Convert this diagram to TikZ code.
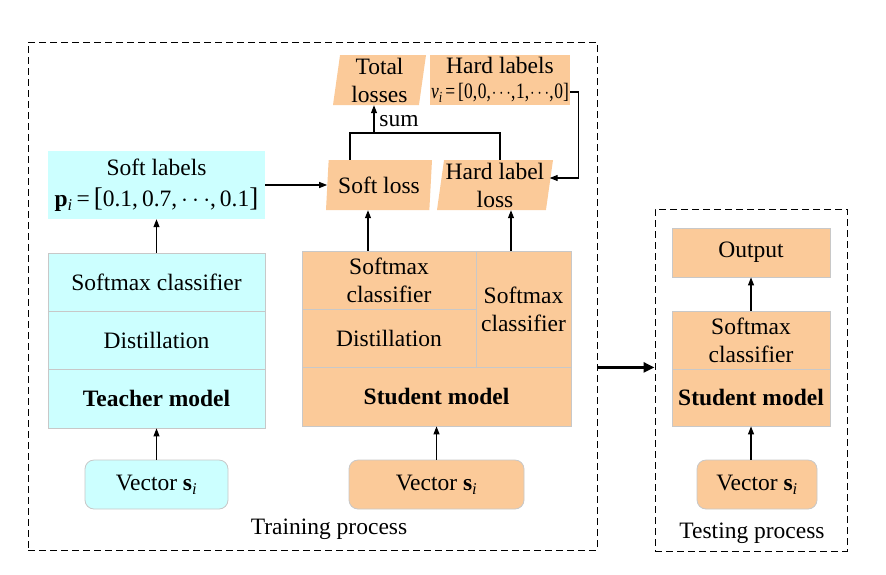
\documentclass[tikz,border=0pt]{standalone}
\usepackage{fontspec}
\usepackage{graphicx}
\setmainfont{Liberation Serif}
\usetikzlibrary{arrows.meta,shapes.geometric}
\definecolor{org}{RGB}{251,202,153}
\definecolor{cyn}{RGB}{204,255,255}
\definecolor{brd}{RGB}{200,200,200}
\newcommand{\subi}{\textsubscript{\normalfont\itshape i}}
\newcommand{\vecsi}{Vector \textbf{s}\subi}
\begin{document}
\begin{tikzpicture}[x=1pt,y=-1pt,
  every node/.style={font=\fontsize{23.5}{28}\selectfont, inner sep=0pt, align=center},
  cellO/.style={draw=brd, line width=0.8pt, fill=org},
  cellC/.style={draw=brd, line width=0.8pt, fill=cyn},
  vecO/.style={cellO, rounded corners=9pt},
  vecC/.style={cellC, rounded corners=9pt},
  para/.style={trapezium, trapezium left angle=81, trapezium right angle=99, trapezium stretches body, fill=org, draw=none},
  arr/.style={-{Triangle[length=8pt,width=6pt]}, line width=1.1pt},
  bigarr/.style={-{Triangle[length=11pt,width=10pt]}, line width=2.6pt},
  dbox/.style={draw, dash pattern=on 7pt off 4pt, line width=1pt}]
\fill[white] (0,0) rectangle (886,574);
\useasboundingbox (0,0) rectangle (886,574);

% dashed frames
\node[dbox, minimum width=569pt, minimum height=508pt] (train) at (312.5,296) {};
\node[dbox, minimum width=192pt, minimum height=342pt] (test) at (751,380) {};

% teacher column
\node[fill=cyn, minimum width=217pt, minimum height=68pt] (softlab) at (156.5,185)
  {Soft labels\\[3pt]\textbf{p}\subi\,=\,{\fontsize{27}{28}\selectfont[}0.1,\,0.7,\,$\cdots$,\,0.1{\fontsize{27}{28}\selectfont]}};
\node[cellC, minimum width=217pt, minimum height=58pt] (tsm) at (156.5,282) {Softmax classifier};
\node[cellC, minimum width=217pt, minimum height=58pt] (tdist) at (156.5,340) {Distillation};
\node[cellC, minimum width=217pt, minimum height=59pt] (tmodel) at (156.5,398.5) {\textbf{Teacher model}};
\node[vecC, minimum width=143pt, minimum height=49pt] (tvec) at (156.5,484.5) {\vecsi};

% student column
\node[cellO, minimum width=174pt, minimum height=58pt] (ssm) at (389,280) {Softmax\\classifier};
\node[cellO, minimum width=174pt, minimum height=58pt] (sdist) at (389,338) {Distillation};
\node[cellO, minimum width=95pt, minimum height=116pt] (ssm2) at (523.5,309) {Softmax\\classifier};
\node[cellO, minimum width=269pt, minimum height=59pt] (smodel) at (436.5,396.5) {\textbf{Student model}};
\node[vecO, minimum width=175pt, minimum height=49pt] (svec) at (436.5,484.5) {\vecsi};

% losses
\node[para, minimum width=106pt, minimum height=50pt] (softloss) at (379,185) {Soft loss};
\node[para, minimum width=116pt, minimum height=50pt] (hardloss) at (495,185) {Hard label\\loss};
\node[para, minimum width=93pt, minimum height=50pt] (total) at (379.5,80) {Total\\losses};
\node[fill=org, minimum width=140pt, minimum height=50pt] (hardlab) at (500,80)
  {Hard labels\\[-3pt]\resizebox{138pt}{\height}{\fontsize{22}{23}\selectfont\textit{v}\subi\,=\,[0,\kern1pt0,\kern1pt$\cdots$,\kern1pt1,\kern1pt$\cdots$,\kern1pt0]}};

% testing column
\node[cellO, minimum width=158pt, minimum height=49pt] (out) at (751,252.5) {Output};
\node[cellO, minimum width=158pt, minimum height=58pt] (tesm) at (751,340) {Softmax\\classifier};
\node[cellO, minimum width=158pt, minimum height=57pt] (temodel) at (751,397.5) {\textbf{Student model}};
\node[vecO, minimum width=120pt, minimum height=49pt] (tevec) at (757,484.5) {\vecsi};

% captions
\node (trainlab) at (329,529) {Training process};
\node (testlab) at (752,533) {Testing process};
\node (sumlab) at (399,121) {sum};

% connectors
\draw[arr] (tvec.north -| tmodel.south) -- (tmodel.south);
\draw[arr] (tsm.north) -- (softlab.south);
\draw[arr] (softlab.east) -- (softlab.east -| softloss.west);
\draw[arr] (svec.north) -- (smodel.south);
\draw[arr] ([xshift=-21pt]ssm.north) -- ([xshift=-21pt]ssm.north |- softloss.south);
\draw[arr] ([xshift=-12.5pt]ssm2.north) -- ([xshift=-12.5pt]ssm2.north |- hardloss.south);
\coordinate (j) at (374,133);
\draw[line width=1.1pt] ([xshift=-29pt]softloss.north) |- (j) -| ([xshift=5pt]hardloss.north);
\draw[arr] (j) -- (j |- total.south);
\draw[arr] ([yshift=-12pt]hardlab.east) -- ++(8,0) |- ([yshift=7pt]hardloss.east);
\draw[bigarr] (train.east |- sdist.south) -- (test.west |- sdist.south);
\draw[arr] (tevec.north -| temodel.south) -- (temodel.south);
\draw[arr] (tesm.north) -- (out.south);
\end{tikzpicture}
\end{document}
